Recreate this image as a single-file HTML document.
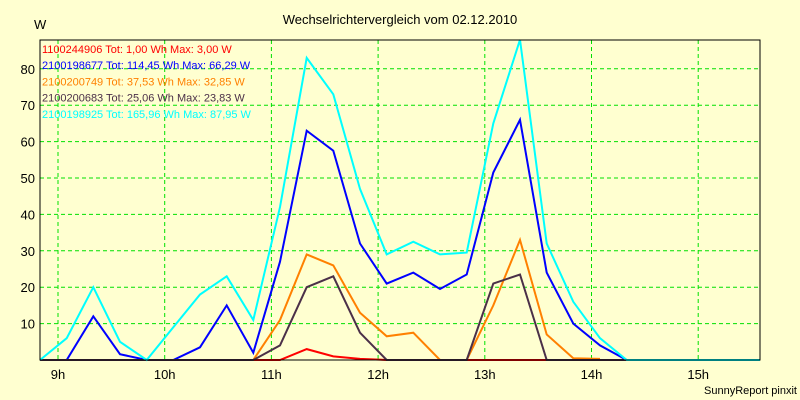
<!DOCTYPE html>
<html><head><meta charset="utf-8"><style>
body{margin:0;background:#ffffd0;}
svg{display:block;font-family:"Liberation Sans",sans-serif;}
</style></head><body>
<svg id="chart" width="800" height="400">
<rect x="0" y="0" width="800" height="400" fill="#ffffd0"/>
<text x="400" y="24" text-anchor="middle" font-size="13" fill="#000">Wechselrichtervergleich vom 02.12.2010</text>
<text x="34" y="29" font-size="13" fill="#000">W</text>
<text x="797" y="394" text-anchor="end" font-size="11" fill="#000">SunnyReport pinxit</text>
<g id="grid"></g><g id="series"></g><g id="legend"></g>
<rect x="40" y="40" width="720" height="320" fill="none" stroke="#000" stroke-width="1"/>
</svg>
<script>
const yTicks=[10,20,30,40,50,60,70,80];
const xTickLabels=["9h","10h","11h","12h","13h","14h","15h"];
const seriesNames=["1100244906 Tot: 1,00 Wh Max: 3,00 W","2100198677 Tot: 114,45 Wh Max: 66,29 W","2100200749 Tot: 37,53 Wh Max: 32,85 W","2100200683 Tot: 25,06 Wh Max: 23,83 W","2100198925 Tot: 165,96 Wh Max: 87,95 W"];
const seriesColors=["#ff0000","#0000ff","#ff8000","#4b3048","#00ffff"];
const red=[0,0,0,0,0,0,0,0,0,0,3,1,0.3,0,0,0,0,0,0,0,0,0,0,0,0,0,0,0];
const blue=[0,0,12,1.6,0,0,3.5,15,2,27,63,57.5,32,21,24,19.5,23.5,51.5,66,24,10,4,0,0,0,0,0,0];
const orange=[0,0,0,0,0,0,0,0,0,11,29,26,13,6.5,7.5,0,0,15,33,7,0.5,0.3,null,null,null,null,null,null];
const dark=[0,0,0,0,0,0,0,0,0,4,20,23,7.5,0,0,0,0,21,23.5,0,0,0,0,0,0,0,0,0];
const cyan=[0,6,20,5,0,9,18,23,11,42,83,73,47,29,32.5,29,29.5,65,88,32,16,6,0,0,0,0,0,0];
const allSeries=[red,blue,orange,dark,cyan];
const NS="http://www.w3.org/2000/svg";
const xIdx=i=>40+i*720/27;
const xHour=h=>58+h*106.7;
const yVal=v=>360-v*3.64;
function mk(t,a,p){const e=document.createElementNS(NS,t);for(const k in a)e.setAttribute(k,a[k]);p.appendChild(e);return e;}
const grid=document.getElementById('grid');
yTicks.forEach(v=>{
 const l=mk('line',{x1:40,x2:760,y1:yVal(v),y2:yVal(v),stroke:'#00e000','stroke-dasharray':'4,3'},grid);
 
 
 const t=mk('text',{x:35,y:yVal(v)+5,'text-anchor':'end','font-size':13},grid);t.textContent=v;
 
 
});
xTickLabels.forEach((s,h)=>{
 const l=mk('line',{x1:xHour(h),x2:xHour(h),y1:40,y2:360,stroke:'#00e000','stroke-dasharray':'4,3'},grid);
 
 
 const t=mk('text',{x:xHour(h),y:379,'text-anchor':'middle','font-size':13},grid);t.textContent=s;
 
 
});
const sg=document.getElementById('series');
allSeries.forEach((arr,si)=>{
 let d='';arr.forEach((v,i)=>{if(v===null)return;d+=(d?'L':'M')+xIdx(i).toFixed(1)+','+yVal(v).toFixed(1);});
 const p=mk('path',{d:d,fill:'none',stroke:seriesColors[si],'stroke-width':2},sg);
 
 
});
const lg=document.getElementById('legend');
seriesNames.forEach((n,i)=>{
 const t=mk('text',{x:42,y:53+i*16.2,'font-size':11,fill:seriesColors[i]},lg);t.textContent=n;
 
 
});
</script>
</body></html>
